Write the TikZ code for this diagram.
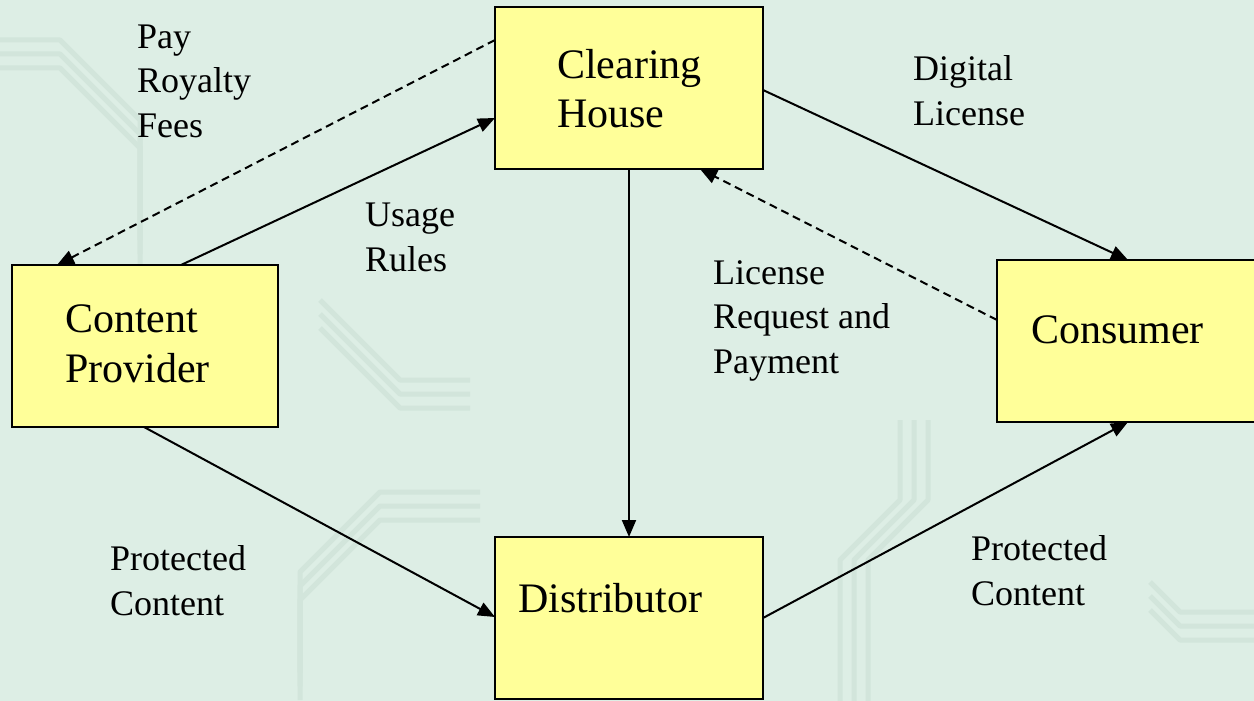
\documentclass[tikz,border=0pt]{standalone}
\usepackage{fontspec}
\setmainfont{Liberation Serif}
\usetikzlibrary{arrows.meta,calc}

\definecolor{boardbg}{RGB}{221,238,229}
\definecolor{boardtrace}{RGB}{210,229,219}
\definecolor{boxfill}{RGB}{255,255,153}

\tikzset{
  box/.style={draw=black, line width=2.4pt, fill=boxfill, rectangle,
    inner sep=0pt, outer sep=0pt, anchor=north west},
  % multi-line nodes sit on the baseline of their last line
  boxtext/.style={anchor=base west, inner sep=0pt, align=left,
    font=\fontsize{42}{50}\selectfont},
  flowlabel/.style={anchor=base west, inner sep=0pt, align=left,
    font=\fontsize{36}{44.5}\selectfont},
  flow/.style={line width=2pt, -{Triangle[length=17pt,width=14pt]}},
  backflow/.style={flow, dash pattern=on 8pt off 5pt},
  trace/.style={draw=boardtrace, line width=5pt, line join=round}
}

\begin{document}
\begin{tikzpicture}[x=1pt, y=-1pt]
  % board background
  \fill[boardbg] (0,0) rectangle (1254,701);
  \useasboundingbox (0,0) rectangle (1254,701);
  \begin{scope}
    \clip (0,0) rectangle (1254,701);
    % faint circuit traces
    \foreach \d in {0,14,28} {
      \draw[trace] (0,40+\d) -- (60,40+\d) -- (140,120+\d) -- (140,240+\d);
      \draw[trace] (300,700-\d) -- (300,600-\d) -- (380,520-\d) -- (480,520-\d);
      \draw[trace] (840+\d,701) -- (840+\d,560) -- (900+\d,500) -- (900+\d,420);
      \draw[trace] (1254,640-\d) -- (1180,640-\d) -- (1150,610-\d);
      \draw[trace] (320,300+\d) -- (400,380+\d) -- (470,380+\d);
    }
  \end{scope}

  % boxes
  \node[box, minimum width=268pt, minimum height=162pt] (ch)  at (495,7)   {};
  \node[box, minimum width=266pt, minimum height=162pt] (cp)  at (12,265)  {};
  \node[box, minimum width=266pt, minimum height=162pt] (con) at (997,260) {};
  \node[box, minimum width=268pt, minimum height=162pt] (dis) at (495,537) {};

  % box captions
  \node[boxtext] (chtext)  at (557,128)  {Clearing\\House};
  \node[boxtext] (cptext)  at (65,382)   {Content\\Provider};
  \node[boxtext] (context) at (1031,343) {Consumer};
  \node[boxtext] (distext) at (518,612)  {Distributor};

  % connectors
  \draw[flow]     ([xshift=169pt]cp.north west) -- ([yshift=-111pt]ch.north west);
  \draw[backflow] ([yshift=-33pt]ch.north west) -- ([xshift=45pt]cp.north west);
  \draw[flow]     (ch.south) -- (dis.north);
  \draw[flow]     ([yshift=-83pt]ch.north east) -- ([xshift=131pt]con.north west);
  \draw[backflow] ([yshift=-60pt]con.north west) -- ([xshift=205pt]ch.south west);
  \draw[flow]     ([xshift=132pt]cp.south west) -- ([yshift=-80pt]dis.north west);
  \draw[flow]     ([yshift=-81pt]dis.north east) -- ([xshift=131pt]con.south west);

  % connector labels
  \node[flowlabel] (lpay)   at (137,137) {Pay\\Royalty\\Fees};
  \node[flowlabel] (lusage) at (365,271) {Usage\\Rules};
  \node[flowlabel] (ldig)   at (913,125) {Digital\\License};
  \node[flowlabel] (lreq)   at (713,373) {License\\Request and\\Payment};
  \node[flowlabel] (lpc1)   at (110,615) {Protected\\Content};
  \node[flowlabel] (lpc2)   at (971,605) {Protected\\Content};
\end{tikzpicture}
\end{document}
